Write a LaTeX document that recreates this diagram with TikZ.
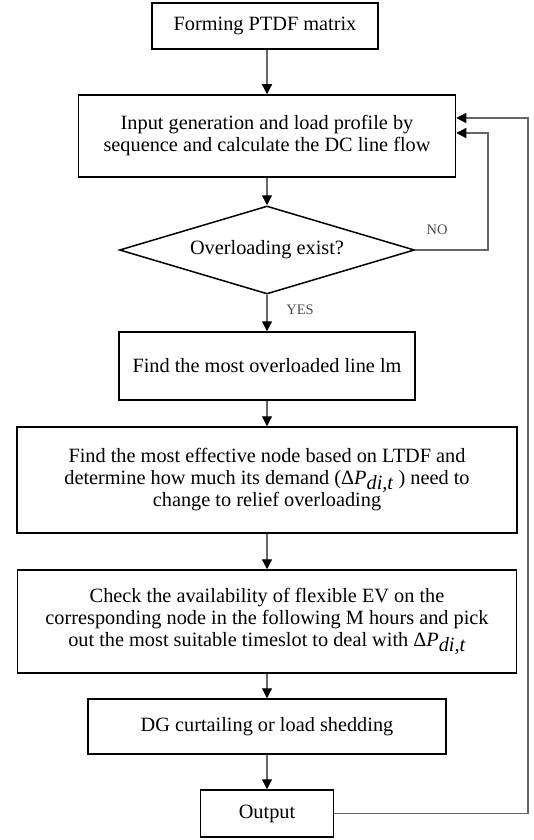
\documentclass[tikz,border=0pt]{standalone}
\usepackage{fontspec}
\setmainfont{Liberation Serif}
\usetikzlibrary{shapes.geometric,arrows.meta}
\newcommand{\dP}{Δ\textit{P}\raisebox{-0.45ex}{\textit{di,t}}}
\begin{document}
\begin{tikzpicture}[x=1pt,y=-1pt,
  box/.style={draw=black,line width=1.5pt,rectangle,inner sep=0pt,align=center,font=\fontsize{20.3}{22}\selectfont},
  dbox/.style={draw=black,line width=1.5pt,diamond,shape aspect=3.35,inner sep=0pt,align=center,font=\fontsize{20.3}{22}\selectfont},
  conn/.style={draw=black!60,line width=1.2pt,-{Triangle[length=10pt,width=10pt,color=black]}},
  loop/.style={draw=black!60,line width=1.2pt,-{Triangle[length=10pt,width=10pt,color=black]}},
  lbl/.style={font=\fontsize{14.5}{16}\selectfont,text=black!70}]
\useasboundingbox (0,0) rectangle (533,840);
\node[box,minimum width=226,minimum height=46] (b1) at (265,26) {Forming PTDF matrix};
\node[box,minimum width=377,minimum height=82] (b2) at (267,136) {Input generation and load profile by\\sequence and calculate the DC line flow};
\node[dbox,minimum width=295,minimum height=88] (dia) at (267,250) {Overloading exist?};
\node[box,minimum width=296,minimum height=68] (b3) at (267,366) {Find the most overloaded line lm};
\node[box,minimum width=500,minimum height=106] (b4) at (267,480) {Find the most effective node based on LTDF and\\determine how much its demand (\dP{} ) need to\\change to relief overloading};
\node[box,minimum width=499,minimum height=103] (b5) at (267,621.5) {Check the availability of flexible EV on the\\corresponding node in the following M hours and pick\\out the most suitable timeslot to deal with \dP};
\node[box,minimum width=358,minimum height=55] (b6) at (267,726.5) {DG curtailing or load shedding};
\node[box,minimum width=133,minimum height=47] (out) at (267,813.5) {Output};
\node[lbl] (no) at (437,230) {NO};
\node[lbl] (yes) at (300,310) {YES};
\coordinate (nox) at (488,0);
\coordinate (outx) at (528,0);
\path (b2.east) ++(0,-3) coordinate (noin);
\path (b2.east) ++(0,-18) coordinate (outin);
\draw[conn] (b1.south -| b2.north) -- (b2.north);
\draw[conn] (b2.south) -- (dia.north);
\draw[conn] (dia.south) -- (b3.north);
\draw[conn] (b3.south) -- (b4.north);
\draw[conn] (b4.south) -- (b5.north);
\draw[conn] (b5.south) -- (b6.north);
\draw[conn] (b6.south) -- (out.north);
\draw[loop] (dia.east) -- (dia.east -| nox) |- (noin);
\draw[loop] (out.east) -- (out.east -| outx) |- (outin);
\end{tikzpicture}
\end{document}
